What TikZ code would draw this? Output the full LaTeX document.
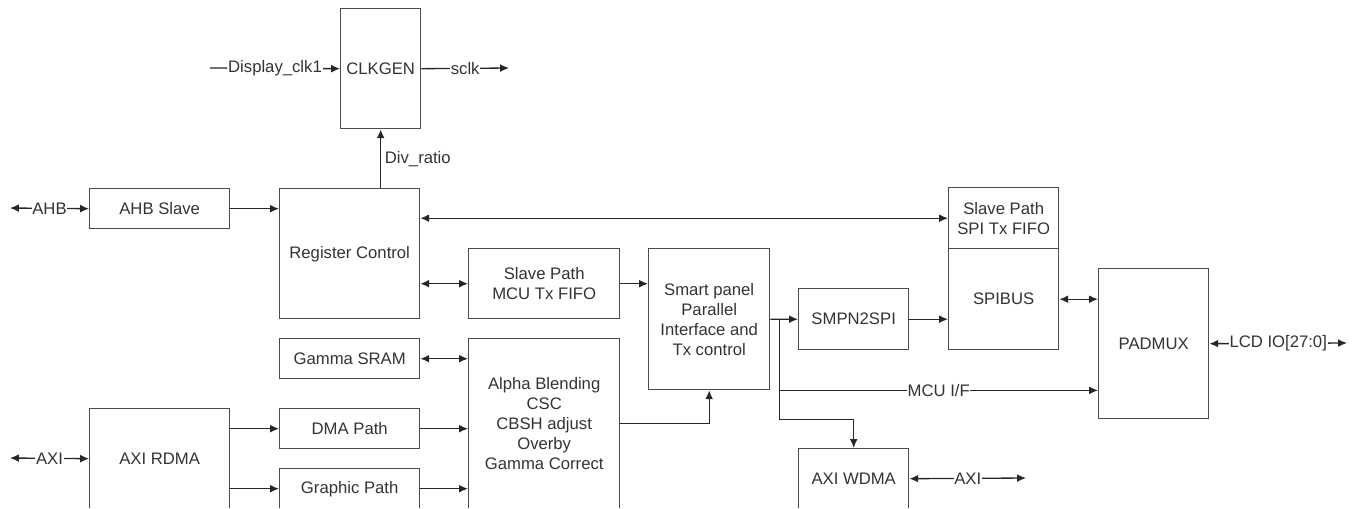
\documentclass[tikz,border=0pt]{standalone}
\usepackage{fontspec}
\setmainfont{Liberation Sans}
\usetikzlibrary{arrows.meta}

\tikzset{
    blk/.style = {draw=black!70, line width=0.8pt, anchor=north west, align=center,
                  inner sep=1pt, text=black!80, font=\fontsize{9.5}{11.4}\selectfont},
    wire/.style = {draw=black!85, line width=0.75pt, -{Latex[length=5pt,width=4.4pt]}},
    duplex/.style = {wire, {Latex[length=5pt,width=4.4pt]}-{Latex[length=5pt,width=4.4pt]}},
    tag/.style = {fill=white, inner sep=0.4pt, text=black!80, font=\fontsize{9.5}{11.4}\selectfont}
}

\begin{document}
\begin{tikzpicture}[x=0.02cm, y=-0.02cm]
    % Page frame (pixel units)
    \useasboundingbox (0,0) rectangle (1356,508);
    \clip (0,0) rectangle (1356,507);

    % Blocks
    \node[blk, minimum width=1.6cm, minimum height=2.4cm] (clkgen) at (340,8) {CLKGEN};
    \node[blk, minimum width=2.8cm, minimum height=0.8cm] (ahbs) at (89,188) {AHB Slave};
    \node[blk, minimum width=2.8cm, minimum height=2.6cm] (reg) at (279,188) {Register Control};
    \node[blk, minimum width=2.8cm, minimum height=0.8cm] (gsram) at (279,338) {Gamma SRAM};
    \node[blk, minimum width=2.8cm, minimum height=0.8cm] (dma) at (279,408) {DMA Path};
    \node[blk, minimum width=2.8cm, minimum height=0.8cm] (gfx) at (279,468) {Graphic Path};
    \node[blk, minimum width=2.8cm, minimum height=2.0cm] (rdma) at (89,408) {AXI RDMA};
    \node[blk, minimum width=3.02cm, minimum height=1.4cm] (mcufifo) at (468,248) {Slave Path\\MCU Tx FIFO};
    \node[blk, minimum width=3.02cm, minimum height=3.4cm] (alpha) at (468,338)
        {Alpha Blending\\CSC\\CBSH adjust\\Overby\\Gamma Correct};
    \node[blk, minimum width=2.42cm, minimum height=2.82cm] (smart) at (648,248)
        {Smart panel\\Parallel\\Interface and\\Tx control};
    \node[blk, minimum width=2.2cm, minimum height=1.22cm] (smpn) at (798,288) {SMPN2SPI};
    \node[blk, minimum width=2.2cm, minimum height=1.22cm] (spififo) at (948,187) {Slave Path\\SPI Tx FIFO};
    \node[blk, minimum width=2.2cm, minimum height=2.02cm] (spibus) at (948,248) {SPIBUS};
    \node[blk, minimum width=2.2cm, minimum height=3.0cm] (padmux) at (1098,268) {PADMUX};
    \node[blk, minimum width=2.2cm, minimum height=1.2cm] (wdma) at (798,448) {AXI WDMA};

    % Free ends and bends
    \coordinate (ahbin) at (10,208);
    \coordinate (axiin) at (10,458);
    \coordinate (clkin) at (210,68);
    \coordinate (sclkout) at (509,68);
    \coordinate (lcdout) at (1347,343);
    \coordinate (axiout) at (1026,478);
    \path (smart.east) ++(9,0) coordinate (tap);
    \path (tap) ++(0,100) coordinate (bend);

    % Clock
    \draw[wire] (clkin) -- node[tag] {Display\_clk1} (clkgen.west);
    \draw[wire] (clkgen.east) -- node[tag] {sclk} (sclkout);
    \draw[wire] (clkgen.south |- reg.north) -- node[tag, fill=none, right, inner sep=2pt] {Div\_ratio} (clkgen.south);

    % Bus side
    \draw[duplex] (ahbin) -- node[tag] {AHB} (ahbs.west);
    \draw[duplex] (axiin) -- node[tag] {AXI} (rdma.west);
    \draw[wire] (ahbs.east) -- (ahbs.east -| reg.west);
    \draw[duplex] (reg.east |- spififo.west) -- (spififo.west);
    \draw[duplex] (reg.east |- mcufifo.west) -- (mcufifo.west);
    \draw[duplex] (gsram.east) -- (gsram.east -| alpha.west);
    \draw[wire] (rdma.east |- dma.west) -- (dma.west);
    \draw[wire] (rdma.east |- gfx.west) -- (gfx.west);
    \draw[wire] (dma.east) -- (dma.east -| alpha.west);
    \draw[wire] (gfx.east) -- (gfx.east -| alpha.west);

    % Panel side
    \draw[wire] (mcufifo.east) -- (mcufifo.east -| smart.west);
    \draw[wire] (alpha.east) -| (smart.south);
    \draw[wire] (smart.east) -- (smpn.west);
    \draw[wire] (tap) -- (bend) -| (wdma.north);
    \draw[wire] (tap |- smart.south) -- node[tag] {MCU I/F} (padmux.west |- smart.south);
    \draw[wire] (smpn.east) -- (smpn.east -| spibus.west);
    \draw[duplex] (spibus.east) -- (spibus.east -| padmux.west);
    \draw[duplex] (padmux.east) -- node[tag] {LCD IO[27:0]} (lcdout);
    \draw[duplex] (wdma.east) -- node[tag] {AXI} (axiout);
\end{tikzpicture}
\end{document}
